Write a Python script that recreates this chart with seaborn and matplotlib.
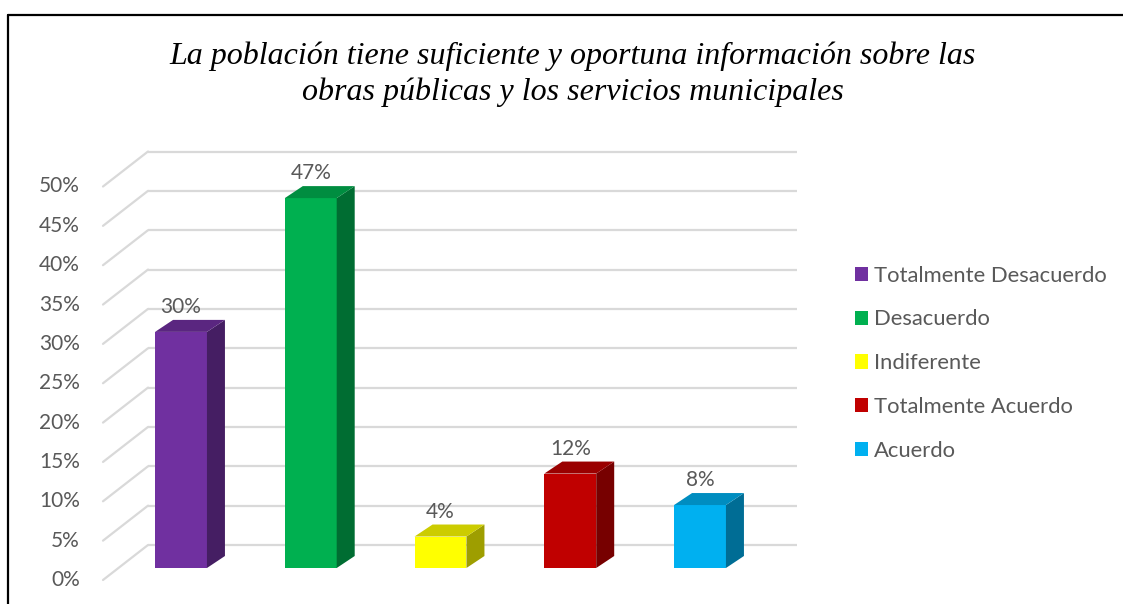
import numpy as np
import matplotlib
matplotlib.use("Agg")
import matplotlib.pyplot as plt
import seaborn as sns
from matplotlib.patches import Polygon
from matplotlib.lines import Line2D

# data
categories = ["Totalmente Desacuerdo", "Desacuerdo", "Indiferente",
              "Totalmente Acuerdo", "Acuerdo"]
values = [0.30, 0.47, 0.04, 0.12, 0.08]
value_labels = ["30%", "47%", "4%", "12%", "8%"]
colors = ["#7030A0", "#00B050", "#FFFF00", "#C00000", "#00B0F0"]
tick_values = [0.0, 0.05, 0.10, 0.15, 0.20, 0.25, 0.30, 0.35, 0.40, 0.45, 0.50]
tick_labels = ["0%", "5%", "10%", "15%", "20%", "25%", "30%", "35%", "40%", "45%", "50%"]
title = ("La población tiene suficiente y oportuna información sobre las\n"
         "obras públicas y los servicios municipales")

sns.set_theme(style="white")
plt.rcParams["font.family"] = ["Lato", "DejaVu Sans"]
TXT = "#595959"

W, H = 1123, 604
fig = plt.figure(figsize=(W / 100, H / 100), dpi=100)

# pixel geometry of the plot area
px_left, px_right, px_top, px_bot = 90, 800, 130, 590
cat0_px, cat_step = 181, 129.75      # first bar centre, spacing
base_px, unit_px = 568, 787          # bar base, pixels per 100%

ax = fig.add_axes([px_left / W, 1 - px_bot / H,
                   (px_right - px_left) / W, (px_bot - px_top) / H])

def px2x(p):
    return (p - cat0_px) / cat_step

# depth offsets (in data units)
back_dy = 23 / unit_px
front_dy = -12 / unit_px
front_x, back_x, right_x = px2x(103), px2x(148), px2x(797)
grid_c = "#D9D9D9"
for v in tick_values:
    ax.plot([back_x, right_x], [v + back_dy, v + back_dy], color=grid_c, lw=1.6, zorder=0.3,
            solid_capstyle="butt")
    ax.plot([front_x, back_x], [v + front_dy, v + back_dy], color=grid_c, lw=1.6, zorder=0.3)

for v, lab in zip(tick_values, tick_labels):
    ax.text(px2x(80), v + front_dy, lab, ha="right", va="center", fontsize=15, color=TXT)

# front faces
sns.barplot(x=categories, y=values, hue=categories, palette=colors, width=0.4,
            saturation=1, legend=True, ax=ax, zorder=1, linewidth=0)
ax.set_xlim((px_left - cat0_px) / cat_step, (px_right - cat0_px) / cat_step)
ax.set_ylim(-(px_bot - base_px) / unit_px, (base_px - px_top) / unit_px)
ax.axis("off")

# 3D side and top faces
dx = 18 / cat_step
dy = 12 / unit_px
hw = 0.2
for i, (v, c) in enumerate(zip(values, colors)):
    rgb = np.array(matplotlib.colors.to_rgb(c))
    side = Polygon([(i + hw, 0), (i + hw + dx, dy), (i + hw + dx, v + dy), (i + hw, v)],
                   closed=True, facecolor=rgb * 0.62, edgecolor="none", zorder=2)
    top = Polygon([(i - hw, v), (i + hw, v), (i + hw + dx, v + dy), (i - hw + dx, v + dy)],
                  closed=True, facecolor=rgb * 0.8, edgecolor="none", zorder=2)
    ax.add_patch(side)
    ax.add_patch(top)
    ax.annotate(value_labels[i], (i, v + dy), xytext=(0, 2), textcoords="offset points",
                ha="center", va="bottom", fontsize=15, color=TXT)

# legend
leg = ax.get_legend()
handles = leg.legend_handles
leg.remove()
fig.legend(handles, categories, loc="upper left", bbox_to_anchor=(846 / W, 1 - 257 / H),
           frameon=False, fontsize=15.8, labelcolor=TXT, handlelength=0.62,
           handleheight=0.62, handletextpad=0.25, labelspacing=1.08, borderaxespad=0)

fig.text(573 / W, 1 - 74 / H, title, ha="center", va="center", fontsize=23,
         fontstyle="italic", family=["Liberation Serif", "DejaVu Serif"],
         color="black", linespacing=1.3)

# outer frame (top and left)
fig.add_artist(Line2D([8 / W, 1], [1 - 15 / H, 1 - 15 / H], color="black", lw=1.6,
                      transform=fig.transFigure))
fig.add_artist(Line2D([8 / W, 8 / W], [0, 1 - 15 / H], color="black", lw=1.6,
                      transform=fig.transFigure))

fig.savefig("out.png", dpi=100)
